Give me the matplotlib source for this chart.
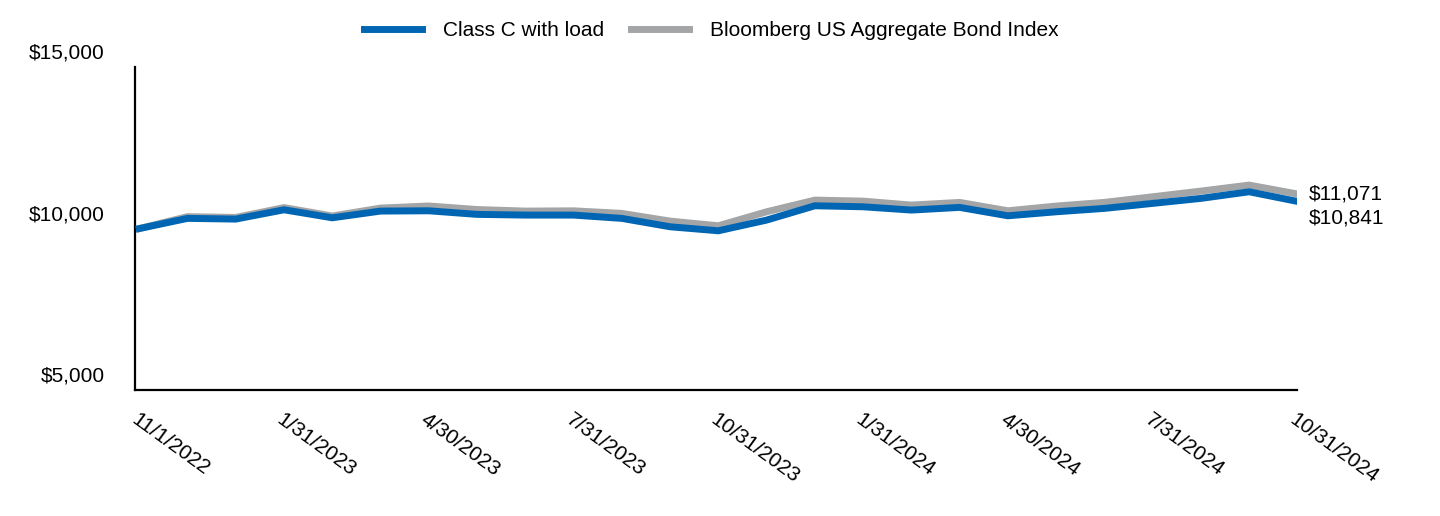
import matplotlib
matplotlib.use("Agg")
import matplotlib.pyplot as plt
from matplotlib.lines import Line2D

plt.rcParams['font.family'] = ['Liberation Sans', 'DejaVu Sans']

# monthly values, 11/1/2022 .. 10/31/2024
dates = ["11/1/2022", "11/30/2022", "12/31/2022", "1/31/2023", "2/28/2023", "3/31/2023",
         "4/30/2023", "5/31/2023", "6/30/2023", "7/31/2023", "8/31/2023", "9/30/2023",
         "10/31/2023", "11/30/2023", "12/31/2023", "1/31/2024", "2/29/2024", "3/31/2024",
         "4/30/2024", "5/31/2024", "6/30/2024", "7/31/2024", "8/31/2024", "9/30/2024",
         "10/31/2024"]
class_c = [10000, 10316, 10294, 10582, 10334, 10542, 10551, 10440, 10418, 10418,
           10316, 10056, 9932, 10263, 10706, 10675, 10573, 10656, 10396, 10520,
           10625, 10780, 10935, 11140, 10841]
bbg_agg = [10000, 10370, 10345, 10650, 10390, 10635, 10700, 10590, 10542, 10550,
           10470, 10232, 10087, 10520, 10882, 10850, 10728, 10811, 10551, 10697,
           10811, 10985, 11161, 11347, 11071]
tick_idx = [0, 3, 6, 9, 12, 15, 18, 21, 24]
yticks = [5000, 10000, 15000]

blue = "#0066b3"
gray = "#a3a5a6"
fs = 15

fig = plt.figure(figsize=(14.4, 5.16), dpi=100)
ax = fig.add_axes([0.094, 0.244, 0.807, 0.626])

x = list(range(len(dates)))
ax.plot(x, bbg_agg, color=gray, lw=5, zorder=2, solid_joinstyle='miter')
ax.plot(x, class_c, color=blue, lw=5, zorder=3, solid_joinstyle='miter')

ax.set_xlim(-0.08, 24)
ax.set_ylim(5000, 15000)

for s in ["top", "right"]:
    ax.spines[s].set_visible(False)
for s in ["left", "bottom"]:
    ax.spines[s].set_linewidth(1.6)

ax.set_xticks(tick_idx)
ax.set_xticklabels([dates[i] for i in tick_idx], rotation=-36, ha='left', va='top',
                   rotation_mode='anchor', fontsize=fs)
ax.tick_params(axis='x', length=0, pad=14)

ax.set_yticks(yticks)
ax.set_yticklabels([])
ax.tick_params(axis='y', length=0)
for v in yticks:
    ax.annotate(f"${v:,}", xy=(0, v), xycoords=('axes fraction', 'data'),
                xytext=(-22, 10), textcoords='offset points', ha='right', va='center',
                fontsize=fs)

# end labels
ax.annotate(f"${bbg_agg[-1]:,}", xy=(24, bbg_agg[-1]), xytext=(8, 0),
            textcoords='offset points', ha='left', va='center', fontsize=fs,
            annotation_clip=False)
ax.annotate(f"${class_c[-1]:,}", xy=(24, class_c[-1]), xytext=(8, -12),
            textcoords='offset points', ha='left', va='center', fontsize=fs,
            annotation_clip=False)

handles = [Line2D([], [], color=blue, lw=5), Line2D([], [], color=gray, lw=5)]
fig.legend(handles, ["Class C with load", "Bloomberg US Aggregate Bond Index"],
           loc='center', bbox_to_anchor=(0.494, 0.94), ncol=2, frameon=False,
           fontsize=fs, handlelength=2.8, columnspacing=1.3, handletextpad=1.0)

fig.savefig("out.png", dpi=100)
